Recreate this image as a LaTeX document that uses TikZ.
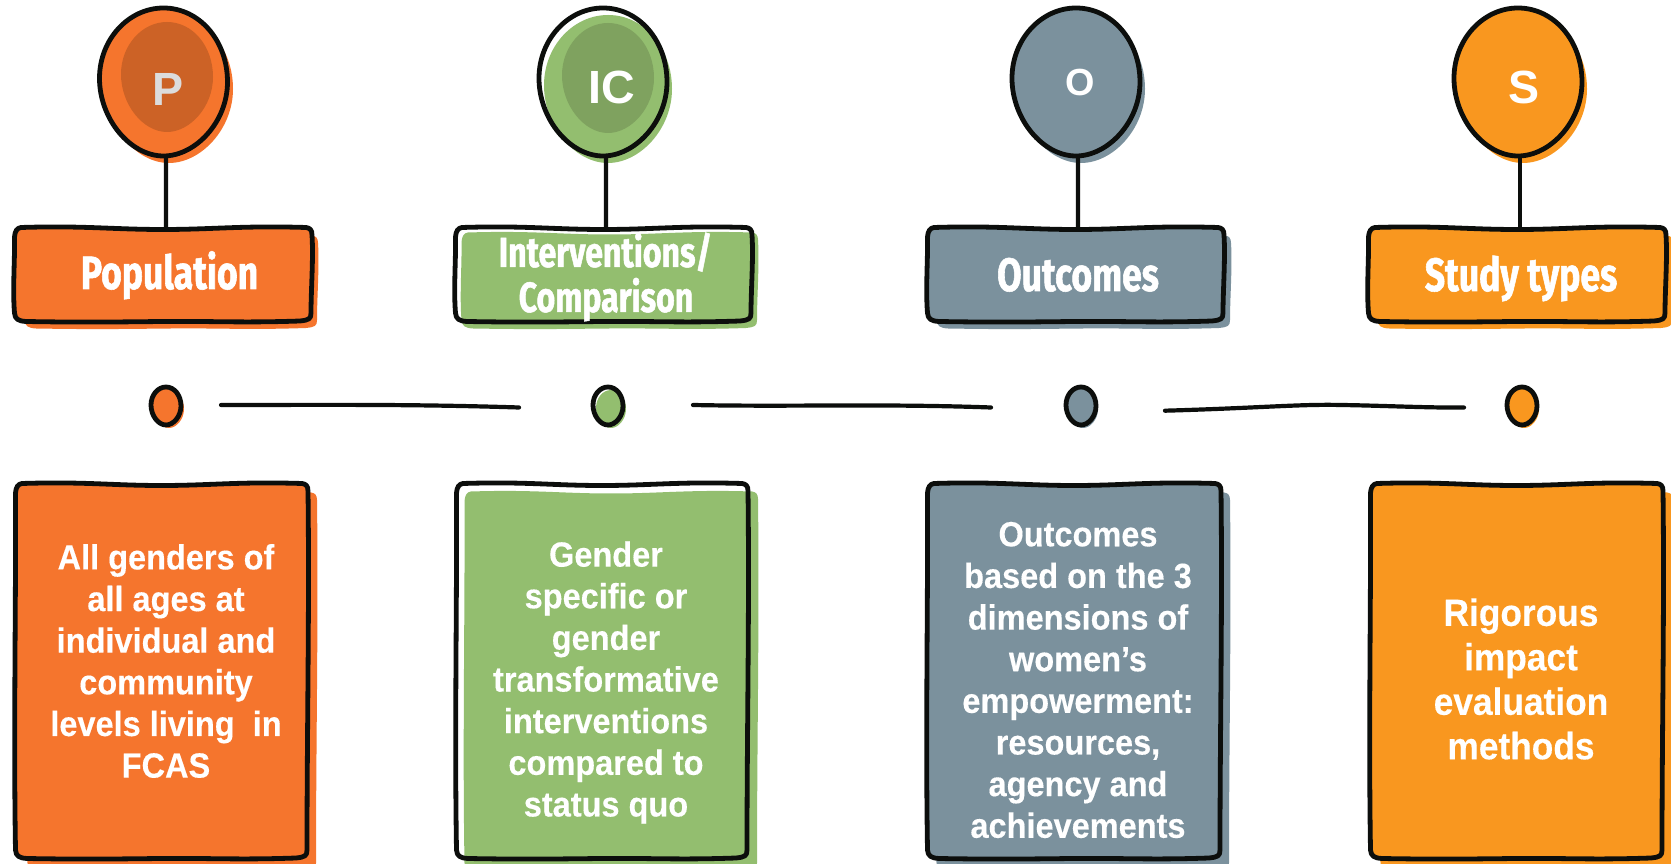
\documentclass[tikz,border=0pt]{standalone}
\usepackage{fontspec}
\usetikzlibrary{shapes.geometric}
\setmainfont{Liberation Sans}
\newfontfamily\headfont[FakeStretch=0.76,BoldFeatures={FakeBold=1.2}]{Fira Sans}
\newfontfamily\bodyfont[FakeStretch=0.93,BoldFeatures={FakeBold=0.3}]{Liberation Sans}
\definecolor{cOrange}{HTML}{F5752D}
\definecolor{cGreen}{HTML}{93BE6F}
\definecolor{cSlate}{HTML}{7B919D}
\definecolor{cAmber}{HTML}{F9971F}
\definecolor{cOrangeIn}{HTML}{CC6226}
\definecolor{cGreenIn}{HTML}{7FA25F}
\definecolor{cLetterP}{HTML}{DCDCDC}
\definecolor{cInk}{HTML}{0C0E0C}
\def\u{0.02cm}
% sketchy box outline: left, top, right, bottom in px
\def\boxpath#1#2#3#4{
 ({#1+7},{#2+0.5}) .. controls ({#1+70},{#2-1.5}) and ({(#1+#3)/2-50},{#2+2.5}) .. ({(#1+#3)/2},{#2+2.5})
 .. controls ({(#1+#3)/2+50},{#2+2.5}) and ({#3-70},{#2-1.5}) .. ({#3-6},{#2+0.5})
 .. controls ({#3-2},{#2+1}) and ({#3},{#2+3}) .. ({#3},{#2+8})
 .. controls ({#3+1.5},{#2+(#4-#2)*0.33}) and ({#3-1},{#2+(#4-#2)*0.66}) .. ({#3-1},{#4-9})
 .. controls ({#3-1},{#4-3}) and ({#3-3},{#4-2}) .. ({#3-12},{#4-1})
 .. controls ({#3-70},{#4+1}) and ({(#1+#3)/2+50},{#4-1}) .. ({(#1+#3)/2},{#4-0.5})
 .. controls ({(#1+#3)/2-50},{#4}) and ({#1+70},{#4+0.5}) .. ({#1+12},{#4-0.5})
 .. controls ({#1+4},{#4-1}) and ({#1+1},{#4-3}) .. ({#1+0.5},{#4-9})
 .. controls ({#1-1.5},{#2+(#4-#2)*0.66}) and ({#1+1},{#2+(#4-#2)*0.33}) .. ({#1+0.5},{#2+10})
 .. controls ({#1+1},{#2+4}) and ({#1+3},{#2+1}) .. cycle}
% egg outline: centre x, centre y, half width, half height
\def\eggpath#1#2#3#4{
 ({#1},{#2-#4}) .. controls ({#1+#3*0.56},{#2-#4}) and ({#1+#3},{#2-#4*0.56}) .. ({#1+#3},{#2+#4*0.0})
 .. controls ({#1+#3},{#2+#4*0.54}) and ({#1+#3*0.5},{#2+#4}) .. ({#1},{#2+#4})
 .. controls ({#1-#3*0.52},{#2+#4}) and ({#1-#3},{#2+#4*0.5}) .. ({#1-#3},{#2-#4*0.05})
 .. controls ({#1-#3},{#2-#4*0.58}) and ({#1-#3*0.54},{#2-#4}) .. cycle}
\tikzset{
 x=\u,y=-\u,
 inkline/.style={draw=cInk,line width=4.8*\u,line join=round,line cap=round},
 thinink/.style={draw=cInk,line width=4.2*\u,line cap=round},
 bignode/.style={shape=ellipse,inner sep=0pt,minimum width=128*\u,minimum height=148*\u},
 headnode/.style={shape=rectangle,inner sep=0pt,minimum width=297*\u,minimum height=95*\u},
 dotnode/.style={shape=ellipse,inner sep=0pt,minimum width=30*\u,minimum height=38*\u},
 headtext/.style={text=white,align=center,inner sep=0pt,font=\headfont\bfseries\fontsize{26.6}{27}\selectfont},
 headsmall/.style={text=white,align=center,inner sep=0pt,font=\headfont\bfseries\fontsize{24}{25}\selectfont},
 bodytext/.style={text=white,align=center,inner sep=0pt,font=\bodyfont\bfseries\fontsize{19.9}{23.7}\selectfont},
 bodytextb/.style={text=white,align=center,inner sep=0pt,font=\bodyfont\bfseries\fontsize{21.6}{25.3}\selectfont},
 letter/.style={text=white,inner sep=0pt,font=\bfseries\fontsize{26.5}{27}\selectfont},
}
\begin{document}
\begin{tikzpicture}
\useasboundingbox (0,0) rectangle (1671,864);
\fill[white] (0,0) rectangle (1671,864);
% ---------- shadows ----------
\fill[cOrange] \eggpath{169}{89}{64}{74};
\fill[cGreen]  \eggpath{608}{89}{64}{74};
\fill[cSlate]  \eggpath{1081}{89}{64}{74};
\fill[cAmber]  \eggpath{1523}{89}{64}{74};
\fill[cOrange] \boxpath{24}{235}{318}{329};
\fill[cGreen]  \boxpath{461}{232}{758}{329};
\fill[cSlate]  \boxpath{936}{235}{1231}{329};
\fill[cAmber]  \boxpath{1377}{235}{1673}{329};
\fill[cOrange] \eggpath{169}{409}{15}{19};
\fill[cGreen]  \eggpath{611}{409}{15}{19};
\fill[cSlate]  \eggpath{1083}{409}{15}{19};
\fill[cAmber]  \eggpath{1524}{409}{15}{19};
\fill[cOrange] \boxpath{27}{492}{317}{872};
\fill[cGreen]  \boxpath{464}{491}{758}{872};
\fill[cSlate]  \boxpath{936}{492}{1230}{872};
\fill[cAmber]  \boxpath{1380}{492}{1673}{872};
% ---------- fills inside the outlines ----------
\fill[cOrange] \eggpath{163.5}{82}{64}{74};
\fill[cSlate]  \eggpath{1076}{82}{64}{74};
\fill[cAmber]  \eggpath{1518}{82}{64}{74};
\fill[cOrange] \boxpath{14}{227}{312}{322};
\fill[cSlate]  \boxpath{927}{227}{1224}{322};
\fill[cAmber]  \boxpath{1368}{227}{1666}{322};
\fill[cOrange] \eggpath{166}{406}{15}{19};
\fill[cSlate]  \eggpath{1081}{406}{15}{19};
\fill[cAmber]  \eggpath{1522}{406}{15}{19};
\fill[cOrange] \boxpath{15}{483}{308}{859};
\fill[cSlate]  \boxpath{927}{483}{1221}{859};
\fill[cAmber]  \boxpath{1370}{483}{1663}{859};
% ---------- inner blobs ----------
\fill[cOrangeIn] \eggpath{167}{77}{46}{55};
\fill[cGreenIn]  \eggpath{608}{78}{46}{55};
% ---------- big circles and header boxes, named ----------
\node[bignode] (cP) at (163.5,82) {};
\node[bignode] (cI) at (603,82) {};
\node[bignode] (cO) at (1076,82) {};
\node[bignode] (cS) at (1518,82) {};
\node[headnode] (hP) at (163,274.5) {};
\node[headnode] (hI) at (603.5,274.5) {};
\node[headnode] (hO) at (1075.5,274.5) {};
\node[headnode] (hS) at (1517,274.5) {};
\draw[inkline] \eggpath{163.5}{82}{64}{74};
\draw[inkline] \eggpath{603}{82}{64}{74};
\draw[inkline] \eggpath{1076}{82}{64}{74};
\draw[inkline] \eggpath{1518}{82}{64}{74};
\draw[inkline] \boxpath{14}{227}{312}{322};
\draw[inkline] \boxpath{455}{227}{752}{322};
\draw[inkline] \boxpath{927}{227}{1224}{322};
\draw[inkline] \boxpath{1368}{227}{1666}{322};
\draw[thinink] ([xshift=2.5*\u]cP.south) -- ([xshift=3*\u]hP.north);
\draw[thinink] ([xshift=3*\u]cI.south) -- ([xshift=2.5*\u]hI.north);
\draw[thinink] ([xshift=2*\u]cO.south) -- ([xshift=2.5*\u]hO.north);
\draw[thinink] ([xshift=2*\u]cS.south) -- ([xshift=3*\u]hS.north);
% ---------- dots and timeline segments ----------
\node[dotnode] (dP) at (166,406) {};
\node[dotnode] (dI) at (608,406) {};
\node[dotnode] (dO) at (1081,406) {};
\node[dotnode] (dS) at (1522,406) {};
\draw[inkline] \eggpath{166}{406}{15}{19};
\draw[inkline] \eggpath{608}{406}{15}{19};
\draw[inkline] \eggpath{1081}{406}{15}{19};
\draw[inkline] \eggpath{1522}{406}{15}{19};
\coordinate (aA) at (221,405);
\coordinate (aB) at (519,407.5);
\coordinate (bA) at (693,405);
\coordinate (bB) at (991,407.5);
\coordinate (gA) at (1165,410.7);
\coordinate (gB) at (1464,407.5);
\draw[thinink] (aA) .. controls (320,405) and (410,404) .. (aB);
\draw[thinink] (bA) .. controls (790,407) and (880,403.5) .. (bB);
\draw[thinink] (gA) .. controls (1260,408) and (1300,404) .. (1341,405) .. controls (1380,405.5) and (1430,408) .. (gB);
% ---------- lower boxes ----------
\draw[inkline] \boxpath{15}{483}{308}{859};
\draw[inkline] \boxpath{456}{483}{748}{859};
\draw[inkline] \boxpath{927}{483}{1221}{859};
\draw[inkline] \boxpath{1370}{483}{1663}{859};
% ---------- texts ----------
\node[letter,text=cLetterP,anchor=base] (lP) at (168,105.5) {P};
\node[letter,anchor=base] (lI) at (611.5,104) {IC};
\node[letter,anchor=base,font=\bfseries\fontsize{21.5}{22}\selectfont] (lO) at (1080,96) {O};
\node[letter,anchor=base] (lS) at (1524,104) {S};
\node[headtext,anchor=base] (tP) at (169.5,289) {Population};
\node[headsmall,anchor=base] (tI1) at (605.5,267) {Interventions/};
\node[headsmall,anchor=base] (tI2) at (606,312) {Comparison};
\node[headtext,anchor=base] (tO) at (1078,291) {Outcomes};
\node[headtext,anchor=base] (tS) at (1521,291) {Study types};
\node[bodytext] (bP) at (166,661) {All genders of\\all ages at\\individual and\\community\\levels living\ \ in\\FCAS};
\node[bodytext] (bI) at (606,682.5) {Gender\\specific or\\gender\\transformative\\interventions\\compared to\\status quo};
\node[bodytext] (bO) at (1078,680) {Outcomes\\based on the 3\\dimensions of\\women’s\\empowerment:\\resources,\\agency and\\achievements};
\node[bodytextb] (bS) at (1521,679) {Rigorous\\impact\\evaluation\\methods};
\end{tikzpicture}
\end{document}
